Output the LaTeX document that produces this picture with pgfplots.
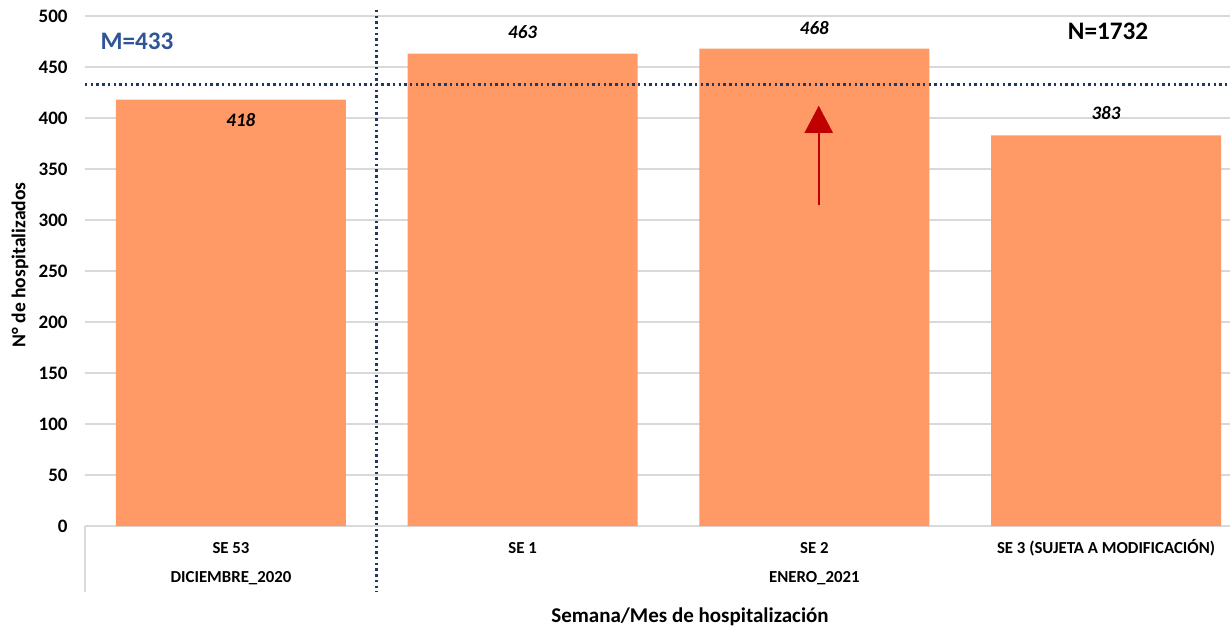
\documentclass[border=0pt]{standalone}
\usepackage{pgfplots}
\pgfplotsset{compat=1.18}
\usepackage{fontspec}
\setmainfont{Carlito}
\usetikzlibrary{arrows.meta}
\definecolor{barorange}{HTML}{FF9966}
\definecolor{gridgray}{HTML}{D9D9D9}
\definecolor{navydot}{HTML}{203864}
\definecolor{mblue}{HTML}{2F5597}
\definecolor{arrowred}{HTML}{C00000}
\begin{document}
\begin{tikzpicture}[x=1pt,y=1pt]
\useasboundingbox (0,0) rectangle (615,314);
\begin{axis}[
  at={(42.5pt,51pt)}, anchor=south west,
  scale only axis, width=572.5pt, height=255pt,
  xmin=-0.5005, xmax=3.425, ymin=0, ymax=500,
  ytick={0,50,...,500}, xtick={0,1,2,3},
  xticklabels={SE 53, SE 1, SE 2, SE 3 (SUJETA A MODIFICACIÓN)},
  axis line style={draw=none},
  major tick length=0pt,
  ymajorgrids, grid style={color=gridgray, line width=0.8pt},
  /pgf/number format/assume math mode=true,
  yticklabel style={font=\bfseries\fontsize{9.5}{11}\selectfont, anchor=east, inner sep=0pt, xshift=-8.5pt},
  xticklabel style={font=\bfseries\fontsize{8.4}{10}\selectfont, anchor=center, inner sep=0pt, yshift=-11pt},
  clip=false,
]
\addplot[ybar, bar width=115pt, fill=barorange, draw=none] coordinates {(0,418) (1,463) (2,468) (3,383)};
\addplot[navydot, line width=1.4pt, dash pattern=on 1.2pt off 1.65pt] coordinates {(-0.5005,433) (3.425,433)};
\draw[navydot, line width=1.4pt, dash pattern=on 1.2pt off 1.65pt] (axis cs:0.5,506) -- ([yshift=-33pt]axis cs:0.5,0);
\draw[gridgray, line width=0.8pt] (axis cs:-0.5005,0) -- ([yshift=-33pt]axis cs:-0.5005,0);
\draw[arrowred, line width=1pt, -{Triangle[width=14pt,length=13.5pt]}] (axis cs:2.015,315) -- (axis cs:2.015,412);
\node[font=\bfseries\itshape\fontsize{9.5}{11}\selectfont] at (axis cs:0.034,398) {418};
\node[font=\bfseries\itshape\fontsize{9.5}{11}\selectfont] at (axis cs:1,484) {463};
\node[font=\bfseries\itshape\fontsize{9.5}{11}\selectfont] at (axis cs:2,488) {468};
\node[font=\bfseries\itshape\fontsize{9.5}{11}\selectfont] at (axis cs:3,405) {383};
\node[font=\bfseries\fontsize{8.4}{10}\selectfont] at ([yshift=-26pt]axis cs:0,0) {DICIEMBRE\_2020};
\node[font=\bfseries\fontsize{8.4}{10}\selectfont] at ([yshift=-26pt]axis cs:2,0) {ENERO\_2021};
\end{axis}
\node[rotate=90, font=\bfseries\fontsize{9.8}{12}\selectfont] at (10,181.5) {N° de hospitalizados};
\node[font=\bfseries\fontsize{10.5}{12}\selectfont] at (345,5.5) {Semana/Mes de hospitalización};
\node[font=\bfseries\fontsize{12.6}{15}\selectfont, text=mblue] at (68.5,293.5) {M=433};
\node[font=\bfseries\fontsize{12.6}{15}\selectfont] at (554,298.5) {N=1732};
\end{tikzpicture}
\end{document}
